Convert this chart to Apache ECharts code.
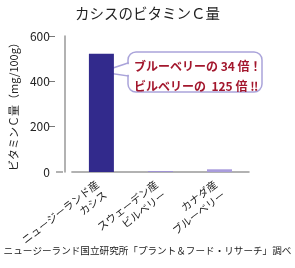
<!DOCTYPE html>
<html>
<head>
<meta charset="utf-8">
<script src="https://cdn.jsdelivr.net/npm/echarts@6/dist/echarts.min.js"></script>
<style>
html, body { margin: 0; padding: 0; background: #fff; }
#chart { width: 295px; height: 268px; }
</style>
</head>
<body>
<div id="chart"></div>
<script>
const categories = ['ニュージーランド産\nカシス', 'スウェーデン産\nビルベリー', 'カナダ産\nブルーベリー']
const vitaminC = [522, 4, 12]
const barColors = ['#322a8c', '#9d90d6', '#a99cdc']
const yTicks = [0, 200, 400, 600]

const font = '"Noto Sans CJK JP", sans-serif'
const axisColor = '#999'
const calloutStroke = '#aaa4da'
const chart = echarts.init(document.getElementById('chart'))

const yRange = {
  min: yTicks[0],
  max: yTicks[yTicks.length - 1],
  interval: 200,
}

chart.setOption({
  animation: false,
  title: {
    text: 'カシスのビタミンＣ量',
    left: 'center',
    top: 1,
    textStyle: { fontFamily: font, fontSize: 14.5, fontWeight: 'normal', color: '#222' },
  },
  grid: [
    { left: 63, right: 46, top: 36, bottom: 96 },
    // thin strip left of the y axis, its split lines act as the tick marks
    { left: 49, right: 240, top: 36, bottom: 96 },
  ],
  xAxis: [
    {
      type: 'category',
      data: categories,
      axisLine: { lineStyle: { color: axisColor, width: 1.5 } },
      axisTick: { show: false },
      axisLabel: {
        rotate: 38,
        interval: 0,
        margin: 16,
        fontFamily: font,
        fontSize: 10.5,
        lineHeight: 13,
        color: '#222',
      },
    },
    { type: 'value', gridIndex: 1, show: false },
  ],
  yAxis: [
    {
      type: 'value',
      offset: 7,
      ...yRange,
      name: 'ビタミンＣ量（mg/100g）',
      nameLocation: 'middle',
      nameGap: 40,
      nameTextStyle: { fontFamily: font, fontSize: 11, color: '#222' },
      axisLine: { show: true, lineStyle: { color: axisColor, width: 1.5 } },
      axisTick: { show: false },
      axisLabel: { fontFamily: font, fontSize: 12, color: '#222', margin: 15 },
      splitLine: { show: false },
    },
    {
      type: 'value',
      gridIndex: 1,
      ...yRange,
      axisLine: { show: false },
      axisTick: { show: false },
      axisLabel: { show: false },
      splitLine: { show: true, showMinLine: false, lineStyle: { color: '#777', width: 1 } },
    },
  ],
  series: [{
    type: 'bar',
    barWidth: 25,
    data: vitaminC.map((v, i) => ({ value: v, itemStyle: { color: barColors[i] } })),
  }],
  graphic: [
    {
      // x axis line continues left to the offset y axis
      type: 'line',
      shape: { x1: 56, y1: 172, x2: 63, y2: 172 },
      style: { stroke: axisColor, lineWidth: 1.5 },
    },
    {
      type: 'rect',
      shape: { x: 128, y: 52, width: 134, height: 40, r: 8 },
      style: { fill: '#fff', stroke: calloutStroke, lineWidth: 1.5 },
    },
    {
      type: 'polygon',
      shape: { points: [[128, 63], [101, 72], [128, 76]] },
      style: { fill: '#fff', stroke: calloutStroke, lineWidth: 1.5 },
    },
    {
      type: 'line',
      shape: { x1: 128, y1: 64.2, x2: 128, y2: 74.8 },
      style: { stroke: '#fff', lineWidth: 2.5 },
    },
    {
      type: 'text',
      left: 134,
      top: 56,
      style: {
        text: 'ブルーベリーの 34 倍！\nビルベリーの  125 倍 ‼',
        fontFamily: font,
        fontSize: 12,
        lineHeight: 20,
        fontWeight: 'bold',
        fill: '#a3172d',
      },
    },
    {
      type: 'text',
      left: 'center',
      top: 246,
      style: {
        text: 'ニュージーランド国立研究所「プラント＆フード・リサーチ」調べ',
        fontFamily: font,
        fontSize: 9.6,
        fill: '#222',
      },
    },
  ],
})
</script>
</body>
</html>
